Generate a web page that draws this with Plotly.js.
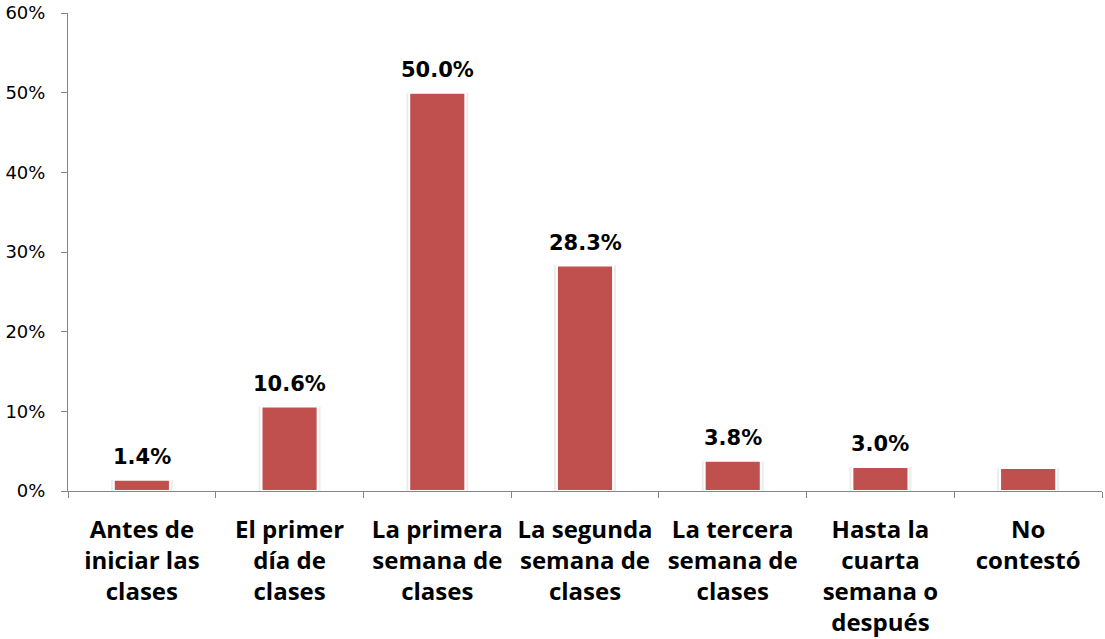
<!DOCTYPE html>
<html>
<head>
<meta charset="utf-8">
<script src="https://cdn.plot.ly/plotly-3.0.1.min.js"></script>
<style>html,body{margin:0;padding:0;background:#fff;}#chart{width:1105px;height:639px;}</style>
</head>
<body>
<div id="chart"></div>
<script>
const categories = [
  "Antes de<br>iniciar las<br>clases",
  "El primer<br>día de<br>clases",
  "La primera<br>semana de<br>clases",
  "La segunda<br>semana de<br>clases",
  "La tercera<br>semana de<br>clases",
  "Hasta la<br>cuarta<br>semana o<br>después",
  "No<br>contestó"
];
const values = [1.4, 10.6, 50.0, 28.3, 3.8, 3.0, 2.9];
const valueLabels = ["1.4%", "10.6%", "50.0%", "28.3%", "3.8%", "3.0%", ""];

const shadow = {
  type: 'bar', x: categories, y: values, width: 0.42,
  marker: {color: 'rgba(0,0,0,0.07)', line: {width: 0}},
  hoverinfo: 'skip', showlegend: false
};
const bars = {
  type: 'bar', x: categories, y: values, width: 0.38,
  marker: {color: '#C0504D', line: {color: '#ffffff', width: 2}},
  showlegend: false
};

const annotations = categories.map((c, i) => ({
  x: c, y: values[i], text: valueLabels[i], showarrow: false,
  yanchor: 'bottom', yshift: 9,
  font: {family: 'DejaVu Sans', size: 21, color: '#000', weight: 'bold'}
})).filter(a => a.text !== "");

const layout = {
  width: 1105, height: 639,
  margin: {l: 68, r: 3, t: 13, b: 148},
  paper_bgcolor: '#fff', plot_bgcolor: '#fff',
  barmode: 'overlay',
  xaxis: {
    type: 'category', tickson: 'boundaries', ticks: 'outside', ticklen: 6,
    tickcolor: '#868686', showline: true, linecolor: '#868686', linewidth: 1,
    showgrid: false, zeroline: false, tickangle: 0, ticklabelstandoff: 17,
    tickfont: {family: 'Open Sans', size: 24, color: '#000', weight: 'bold'}
  },
  yaxis: {
    range: [0, 60], dtick: 10, ticksuffix: '%', ticks: 'outside', ticklen: 6,
    tickcolor: '#868686', showline: true, linecolor: '#868686', linewidth: 1,
    showgrid: false, zeroline: false, ticklabelstandoff: 12,
    tickfont: {family: 'DejaVu Sans', size: 18, color: '#000'}
  },
  annotations: annotations
};

Plotly.newPlot('chart', [shadow, bars], layout, {displayModeBar: false, staticPlot: true});
</script>
</body>
</html>
